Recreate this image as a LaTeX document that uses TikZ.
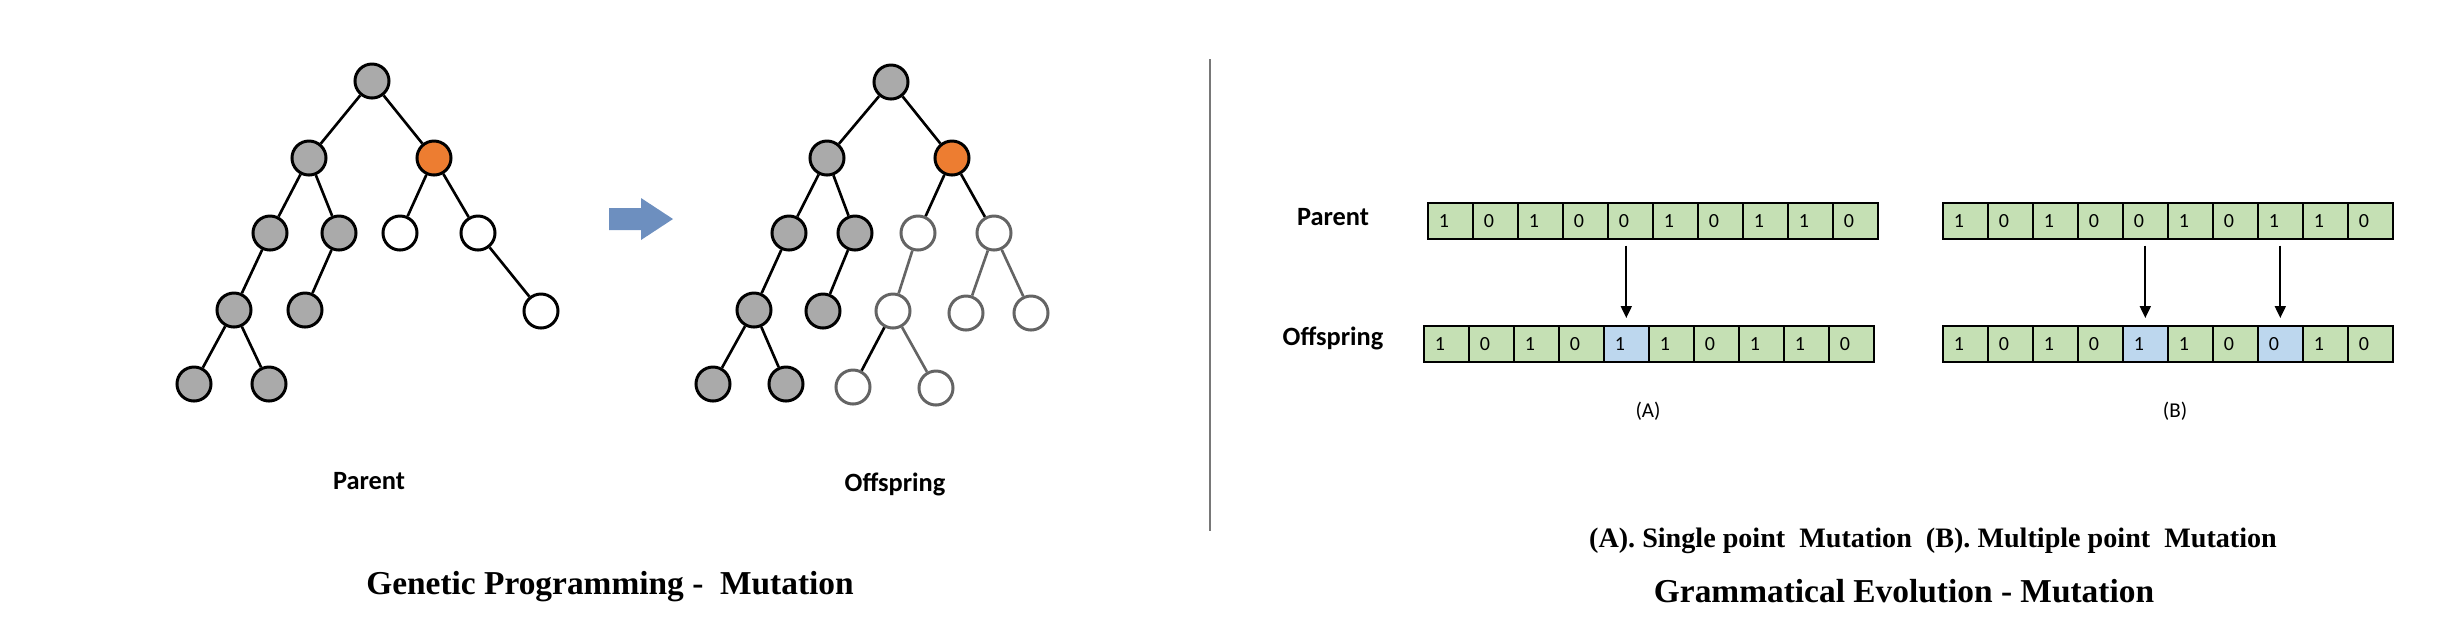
\documentclass[tikz,border=0pt]{standalone}
\usepackage{fontspec}
\setmainfont{Liberation Serif}
\newfontfamily\calibri{Carlito}
\usetikzlibrary{arrows.meta}

\definecolor{nodegray}{RGB}{170,170,170}
\definecolor{mutorange}{RGB}{237,125,49}
\definecolor{newgray}{RGB}{100,100,100}
\definecolor{cellg}{RGB}{197,224,180}
\definecolor{cellb}{RGB}{189,215,238}
\definecolor{arrowblue}{RGB}{109,143,191}
\definecolor{sepgray}{RGB}{120,120,120}

\tikzset{
    old/.style={circle, draw, fill=nodegray, line width=0.85pt, minimum size=0.34cm, inner sep=0pt},
    hot/.style={old, fill=mutorange},
    blank/.style={old, fill=white},
    fresh/.style={old, draw=newgray, fill=white},
    link/.style={line width=0.75pt},
    newlink/.style={link, draw=newgray},
    cell/.style={draw, line width=0.45pt, anchor=north west, minimum width=0.45cm, minimum height=0.36cm, inner sep=0pt, font=\calibri\fontsize{5.7}{6}\selectfont},
    flip/.style={-{Triangle[length=0.12cm, width=0.11cm]}, line width=0.55pt, shorten <=0.06cm, shorten >=0.07cm},
    lbl/.style={font=\calibri\bfseries\fontsize{7.5}{9}\selectfont},
    ttl/.style={font=\bfseries\fontsize{9.5}{11}\selectfont},
}

\begin{document}
\begin{tikzpicture}[x=0.01cm, y=-0.01cm]
    \useasboundingbox (0,0) rectangle (2450,620);

    % parent tree
    \node[old] (p0) at (372,81) {};
    \node[old] (p1a) at (309,158) {};
    \node[hot] (p1b) at (434,158) {};
    \node[old] (p2a) at (270,233) {};
    \node[old] (p2b) at (339,233) {};
    \node[blank] (p2c) at (400,233) {};
    \node[blank] (p2d) at (478,233) {};
    \node[old] (p3a) at (234,310) {};
    \node[old] (p3b) at (305,310) {};
    \node[blank] (p3c) at (541,311) {};
    \node[old] (p4a) at (194,384) {};
    \node[old] (p4b) at (269,384) {};

    \foreach \a/\b in {p0/p1a, p0/p1b, p1a/p2a, p1a/p2b, p1b/p2c, p1b/p2d, p2a/p3a, p2b/p3b, p2d/p3c, p3a/p4a, p3a/p4b}
    \draw[link] (\a) -- (\b);

    % offspring tree
    \node[old] (o0) at (891,82) {};
    \node[old] (o1a) at (827,158) {};
    \node[hot] (o1b) at (952,158) {};
    \node[old] (o2a) at (789,233) {};
    \node[old] (o2b) at (855,233) {};
    \node[fresh] (o2c) at (918,233) {};
    \node[fresh] (o2d) at (994,233) {};
    \node[old] (o3a) at (754,310) {};
    \node[old] (o3b) at (823,311) {};
    \node[fresh] (o3c) at (893,311) {};
    \node[fresh] (o3d) at (966,313) {};
    \node[fresh] (o3e) at (1031,313) {};
    \node[old] (o4a) at (713,384) {};
    \node[old] (o4b) at (786,384) {};
    \node[fresh] (o4c) at (853,387) {};
    \node[fresh] (o4d) at (936,388) {};

    \foreach \a/\b in {o0/o1a, o0/o1b, o1a/o2a, o1a/o2b, o1b/o2c, o1b/o2d, o2a/o3a, o2b/o3b, o3a/o4a, o3a/o4b, o3c/o4c}
    \draw[link] (\a) -- (\b);
    \foreach \a/\b in {o2c/o3c, o2d/o3d, o2d/o3e, o3c/o4d}
    \draw[newlink] (\a) -- (\b);

    \fill[arrowblue] (609,208) -- (641,208) -- (641,198) -- (673,219) -- (641,240) -- (641,230) -- (609,230) -- cycle;

    \node[lbl] (ptxt) at (369,481) {Parent};
    \node[lbl] (otxt) at (895,484) {Offspring};
    \node[ttl] (gptitle) at (610,587) {Genetic Programming -\ \ Mutation};

    \draw[sepgray, line width=0.6pt] (1210,59) -- (1210,531);

    % grammatical evolution strings
    \foreach \b [count=\i from 0] in {1,0,1,0,0,1,0,1,1,0}
    {
        \node[cell, fill=cellg] (pa\i) at ({1427+45*\i},202) {\makebox[0.45cm][l]{\hspace{0.11cm}\b}};
        \node[cell, fill=cellg] (pb\i) at ({1942+45*\i},202) {\makebox[0.45cm][l]{\hspace{0.11cm}\b}};
    }
    \foreach \b/\c [count=\i from 0] in {1/g,0/g,1/g,0/g,1/b,1/g,0/g,1/g,1/g,0/g}
    \node[cell, fill=cell\c] (oa\i) at ({1423+45*\i},325) {\makebox[0.45cm][l]{\hspace{0.11cm}\b}};
    \foreach \b/\c [count=\i from 0] in {1/g,0/g,1/g,0/g,1/b,1/g,0/g,0/b,1/g,0/g}
    \node[cell, fill=cell\c] (ob\i) at ({1942+45*\i},325) {\makebox[0.45cm][l]{\hspace{0.11cm}\b}};

    \draw[flip] (pa4.south -| oa4.north) -- (oa4.north);
    \draw[flip] (pb4.south) -- (ob4.north);
    \draw[flip] (pb7.south) -- (ob7.north);

    \node[lbl] (patxt) at (1333,217) {Parent};
    \node[lbl] (oatxt) at (1333,338) {Offspring};
    \node[font=\calibri\fontsize{6}{7}\selectfont] (acap) at (1648,411) {(A)};
    \node[font=\calibri\fontsize{6}{7}\selectfont] (bcap) at (2175,411) {(B)};
    \node[ttl, font=\bfseries\fontsize{8}{10}\selectfont] (subtitle) at (1933,541) {(A). Single point\ \ Mutation\ \ (B). Multiple point\ \ Mutation};
    \node[ttl] (getitle) at (1904,591) {Grammatical Evolution - Mutation};
\end{tikzpicture}
\end{document}
